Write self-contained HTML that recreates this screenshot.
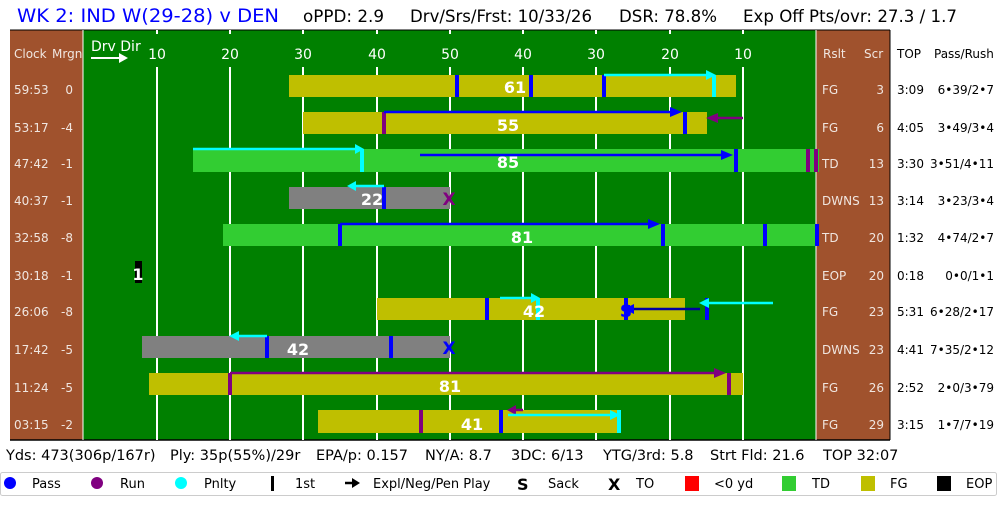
<!DOCTYPE html>
<html><head><meta charset="utf-8"><style>
body{margin:0;background:#fff;width:1000px;height:500px;overflow:hidden}
text{font-family:"DejaVu Sans","Liberation Sans",sans-serif}
</style></head><body>
<svg width="1000" height="500" xmlns="http://www.w3.org/2000/svg">
<text x="17" y="22" font-size="19" fill="#0000ff" textLength="262" lengthAdjust="spacingAndGlyphs">WK 2: IND W(29-28) v DEN</text>
<g font-size="16.5" fill="#000">
<text x="303" y="22" textLength="81" lengthAdjust="spacingAndGlyphs">oPPD: 2.9</text>
<text x="410" y="22" textLength="182" lengthAdjust="spacingAndGlyphs">Drv/Srs/Frst: 10/33/26</text>
<text x="619" y="22" textLength="98" lengthAdjust="spacingAndGlyphs">DSR: 78.8%</text>
<text x="743" y="22" textLength="214" lengthAdjust="spacingAndGlyphs">Exp Off Pts/ovr: 27.3 / 1.7</text>
</g>
<rect x="10" y="30" width="880" height="410" fill="#a0522d"/>
<rect x="83" y="30" width="733" height="410" fill="#008000"/>
<line x1="10" y1="30" x2="890" y2="30" stroke="#000" stroke-width="1"/>
<line x1="10" y1="440" x2="890" y2="440" stroke="#000" stroke-width="1.5"/>
<line x1="890" y1="30" x2="890" y2="440" stroke="#000" stroke-width="1"/>
<line x1="816" y1="30" x2="816" y2="440" stroke="#fff" stroke-width="1"/>
<line x1="83" y1="30" x2="83" y2="440" stroke="#fff" stroke-width="1"/>
<g stroke="#fff" stroke-width="2">
<line x1="157" y1="30" x2="157" y2="34"/><line x1="157" y1="67" x2="157" y2="440"/>
<line x1="230" y1="30" x2="230" y2="34"/><line x1="230" y1="67" x2="230" y2="440"/>
<line x1="303" y1="30" x2="303" y2="34"/><line x1="303" y1="67" x2="303" y2="440"/>
<line x1="377" y1="30" x2="377" y2="34"/><line x1="377" y1="67" x2="377" y2="440"/>
<line x1="450" y1="30" x2="450" y2="34"/><line x1="450" y1="67" x2="450" y2="440"/>
<line x1="523" y1="30" x2="523" y2="34"/><line x1="523" y1="67" x2="523" y2="440"/>
<line x1="596" y1="30" x2="596" y2="34"/><line x1="596" y1="67" x2="596" y2="440"/>
<line x1="670" y1="30" x2="670" y2="34"/><line x1="670" y1="67" x2="670" y2="440"/>
<line x1="743" y1="30" x2="743" y2="34"/><line x1="743" y1="67" x2="743" y2="440"/>
</g>
<g fill="#fff" font-size="14" text-anchor="middle">
<text x="157" y="59">10</text><text x="230" y="59">20</text><text x="303" y="59">30</text><text x="377" y="59">40</text><text x="450" y="59">50</text><text x="523" y="59">40</text><text x="596" y="59">30</text><text x="670" y="59">20</text><text x="743" y="59">10</text>
</g>
<text x="91" y="51" fill="#fff" font-size="14">Drv Dir</text>
<line x1="91" y1="58" x2="122" y2="58" stroke="#fff" stroke-width="2"/>
<polygon points="119,53 128,58 119,63" fill="#fff"/>
<g fill="#f0e6e0" font-size="12">
<text x="14" y="58">Clock</text><text x="52" y="58">Mrgn</text>
<text x="823" y="58">Rslt</text><text x="864" y="58">Scr</text>
</g>
<g fill="#000" font-size="12"><text x="897" y="58">TOP</text><text x="934" y="58">Pass/Rush</text></g>
<g fill="#f0e6e0" font-size="12">
<text x="14" y="94">59:53</text><text x="14" y="132">53:17</text><text x="14" y="168">47:42</text><text x="14" y="205">40:37</text><text x="14" y="242">32:58</text><text x="14" y="280">30:18</text><text x="14" y="316">26:06</text><text x="14" y="354">17:42</text><text x="14" y="392">11:24</text><text x="14" y="429">03:15</text>
</g>
<g fill="#f0e6e0" font-size="12" text-anchor="end">
<text x="73" y="94">0</text><text x="73" y="132">-4</text><text x="73" y="168">-1</text><text x="73" y="205">-1</text><text x="73" y="242">-8</text><text x="73" y="280">-1</text><text x="73" y="316">-8</text><text x="73" y="354">-5</text><text x="73" y="392">-5</text><text x="73" y="429">-2</text>
</g>
<g fill="#f0e6e0" font-size="12">
<text x="822" y="94">FG</text><text x="822" y="132">FG</text><text x="822" y="168">TD</text><text x="822" y="205">DWNS</text><text x="822" y="242">TD</text><text x="822" y="280">EOP</text><text x="822" y="316">FG</text><text x="822" y="354">DWNS</text><text x="822" y="392">FG</text><text x="822" y="429">FG</text>
</g>
<g fill="#f0e6e0" font-size="12" text-anchor="end">
<text x="884" y="94">3</text><text x="884" y="132">6</text><text x="884" y="168">13</text><text x="884" y="205">13</text><text x="884" y="242">20</text><text x="884" y="280">20</text><text x="884" y="316">23</text><text x="884" y="354">23</text><text x="884" y="392">26</text><text x="884" y="429">29</text>
</g>
<g fill="#000" font-size="12">
<text x="897" y="94">3:09</text><text x="897" y="132">4:05</text><text x="897" y="168">3:30</text><text x="897" y="205">3:14</text><text x="897" y="242">1:32</text><text x="897" y="280">0:18</text><text x="897" y="316">5:31</text><text x="897" y="354">4:41</text><text x="897" y="392">2:52</text><text x="897" y="429">3:15</text>
</g>
<g fill="#000" font-size="12" text-anchor="end">
<text x="994" y="94">6•39/2•7</text><text x="994" y="132">3•49/3•4</text><text x="994" y="168">3•51/4•11</text><text x="994" y="205">3•23/3•4</text><text x="994" y="242">4•74/2•7</text><text x="994" y="280">0•0/1•1</text><text x="994" y="316">6•28/2•17</text><text x="994" y="354">7•35/2•12</text><text x="994" y="392">2•0/3•79</text><text x="994" y="429">1•7/7•19</text>
</g>

<!-- bars -->
<g>
<rect x="289" y="75" width="447" height="22" fill="#bfbf00"/>
<rect x="303" y="112" width="404" height="22" fill="#bfbf00"/>
<rect x="193" y="149" width="626" height="23" fill="#32cd32"/>
<rect x="289" y="187" width="161" height="22" fill="#808080"/>
<rect x="223" y="224" width="594" height="22" fill="#32cd32"/>
<rect x="135" y="261" width="7" height="22" fill="#000"/>
<rect x="377" y="298" width="308" height="22" fill="#bfbf00"/>
<rect x="142" y="336" width="308" height="22" fill="#808080"/>
<rect x="149" y="373" width="594" height="22" fill="#bfbf00"/>
<rect x="318" y="410" width="302" height="23" fill="#bfbf00"/>
</g>
<!-- marks -->
<g stroke-width="4">
<line x1="457" y1="75" x2="457" y2="97" stroke="#0000ff"/>
<line x1="531" y1="75" x2="531" y2="97" stroke="#0000ff"/>
<line x1="604" y1="75" x2="604" y2="97" stroke="#0000ff"/>
<line x1="714" y1="75" x2="714" y2="97" stroke="#00ffff"/>
<line x1="384" y1="112" x2="384" y2="134" stroke="#800080"/>
<line x1="685" y1="112" x2="685" y2="134" stroke="#0000ff"/>
<line x1="362" y1="149" x2="362" y2="172" stroke="#00ffff"/>
<line x1="736" y1="149" x2="736" y2="172" stroke="#0000ff"/>
<line x1="808" y1="149" x2="808" y2="172" stroke="#800080"/>
<line x1="816" y1="149" x2="816" y2="172" stroke="#800080"/>
<line x1="384" y1="187" x2="384" y2="209" stroke="#0000ff"/>
<line x1="340" y1="224" x2="340" y2="246" stroke="#0000ff"/>
<line x1="663" y1="224" x2="663" y2="246" stroke="#0000ff"/>
<line x1="765" y1="224" x2="765" y2="246" stroke="#0000ff"/>
<line x1="817" y1="224" x2="817" y2="246" stroke="#0000ff"/>
<line x1="487" y1="298" x2="487" y2="320" stroke="#0000ff"/>
<line x1="538" y1="298" x2="538" y2="320" stroke="#00ffff"/>
<line x1="626" y1="298" x2="626" y2="320" stroke="#0000ff"/>
<line x1="707" y1="298" x2="707" y2="320" stroke="#0000ff"/>
<line x1="267" y1="336" x2="267" y2="358" stroke="#0000ff"/>
<line x1="391" y1="336" x2="391" y2="358" stroke="#0000ff"/>
<line x1="230" y1="373" x2="230" y2="395" stroke="#800080"/>
<line x1="729" y1="373" x2="729" y2="395" stroke="#800080"/>
<line x1="421" y1="410" x2="421" y2="433" stroke="#800080"/>
<line x1="501" y1="410" x2="501" y2="433" stroke="#0000ff"/>
<line x1="619" y1="410" x2="619" y2="433" stroke="#00ffff"/>
</g>
<!-- arrows -->
<g stroke-width="2.5">
<line x1="604" y1="75" x2="710" y2="75" stroke="#00ffff"/><polygon points="706,70 716,75 706,80" fill="#00ffff"/>
<line x1="384" y1="112" x2="676" y2="112" stroke="#0000ff"/><polygon points="670,107 682,112 670,117" fill="#0000ff"/>
<line x1="743" y1="118" x2="712" y2="118" stroke="#800080"/><polygon points="718,113 706,118 718,123" fill="#800080"/>
<line x1="193" y1="149" x2="358" y2="149" stroke="#00ffff"/><polygon points="355,144 364,149 355,154" fill="#00ffff"/>
<line x1="420" y1="155" x2="726" y2="155" stroke="#0000ff"/><polygon points="721,150 733,155 721,160" fill="#0000ff"/>
<line x1="384" y1="186" x2="352" y2="186" stroke="#00ffff"/><polygon points="356,181 347,186 356,191" fill="#00ffff"/>
<line x1="340" y1="224" x2="652" y2="224" stroke="#0000ff"/><polygon points="648,219 660,224 648,229" fill="#0000ff"/>
<line x1="500" y1="298" x2="535" y2="298" stroke="#00ffff"/><polygon points="531,293 540,298 531,303" fill="#00ffff"/>
<line x1="700" y1="309" x2="630" y2="309" stroke="#0000a0"/><polygon points="634,304 624,309 634,314" fill="#0000ff"/>
<line x1="773" y1="303" x2="705" y2="303" stroke="#00ffff"/><polygon points="709,298 699,303 709,308" fill="#00ffff"/>
<line x1="267" y1="336" x2="235" y2="336" stroke="#00ffff"/><polygon points="239,331 229,336 239,341" fill="#00ffff"/>
<line x1="230" y1="373" x2="718" y2="373" stroke="#800080"/><polygon points="714,368 726,373 714,378" fill="#800080"/>
<line x1="523" y1="410" x2="512" y2="410" stroke="#800080"/><polygon points="516,405 507,410 516,415" fill="#800080"/>
<line x1="508" y1="415" x2="614" y2="415" stroke="#00ffff"/><polygon points="610,410 620,415 610,420" fill="#00ffff"/>
</g>
<!-- labels -->
<g fill="#fff" font-size="16" font-weight="bold" text-anchor="middle">
<text x="515" y="93">61</text><text x="508" y="131">55</text><text x="508" y="168">85</text><text x="372" y="205">22</text><text x="522" y="243">81</text><text x="138" y="280">1</text><text x="534" y="317">42</text><text x="298" y="355">42</text><text x="450" y="392">81</text><text x="472" y="430">41</text>
</g>
<text x="449" y="205" fill="#800080" font-size="17" font-weight="bold" text-anchor="middle">X</text>
<text x="449" y="354" fill="#0000ff" font-size="17" font-weight="bold" text-anchor="middle">X</text>
<text x="626" y="317" fill="#0000ff" font-size="17" font-weight="bold" text-anchor="middle">S</text>

<!-- stats -->
<g font-size="14.5" fill="#000">
<text x="6" y="460">Yds: 473(306p/167r)</text>
<text x="170" y="460">Ply: 35p(55%)/29r</text>
<text x="316" y="460">EPA/p: 0.157</text>
<text x="425" y="460">NY/A: 8.7</text>
<text x="511" y="460">3DC: 6/13</text>
<text x="603" y="460">YTG/3rd: 5.8</text>
<text x="710" y="460">Strt Fld: 21.6</text>
<text x="823" y="460">TOP 32:07</text>
</g>
<rect x="0.5" y="472.5" width="996" height="23" rx="2" fill="#fff" stroke="#ccc"/>
<g font-size="13" fill="#000">
<circle cx="10" cy="483" r="6" fill="#0000ff"/><text x="32" y="488">Pass</text>
<circle cx="97" cy="483" r="6" fill="#800080"/><text x="120" y="488">Run</text>
<circle cx="181" cy="483" r="6" fill="#00ffff"/><text x="204" y="488">Pnlty</text>
<rect x="271" y="476" width="3" height="15" fill="#000"/><text x="295" y="488">1st</text>
<line x1="345" y1="483" x2="354" y2="483" stroke="#000" stroke-width="2.5"/><polygon points="352,478 360,483 352,488" fill="#000"/><text x="373" y="488">Expl/Neg/Pen Play</text>
<text x="517" y="490" font-weight="bold" font-size="16">S</text><text x="548" y="488">Sack</text>
<text x="608" y="490" font-weight="bold" font-size="16">X</text><text x="636" y="488">TO</text>
<rect x="685" y="476" width="14" height="15" fill="#ff0000"/><text x="714" y="488">&lt;0 yd</text>
<rect x="782" y="476" width="14" height="15" fill="#32cd32"/><text x="812" y="488">TD</text>
<rect x="861" y="476" width="14" height="15" fill="#bfbf00"/><text x="890" y="488">FG</text>
<rect x="937" y="476" width="14" height="15" fill="#000"/><text x="966" y="488">EOP</text>
</g>
</svg>
</body></html>
